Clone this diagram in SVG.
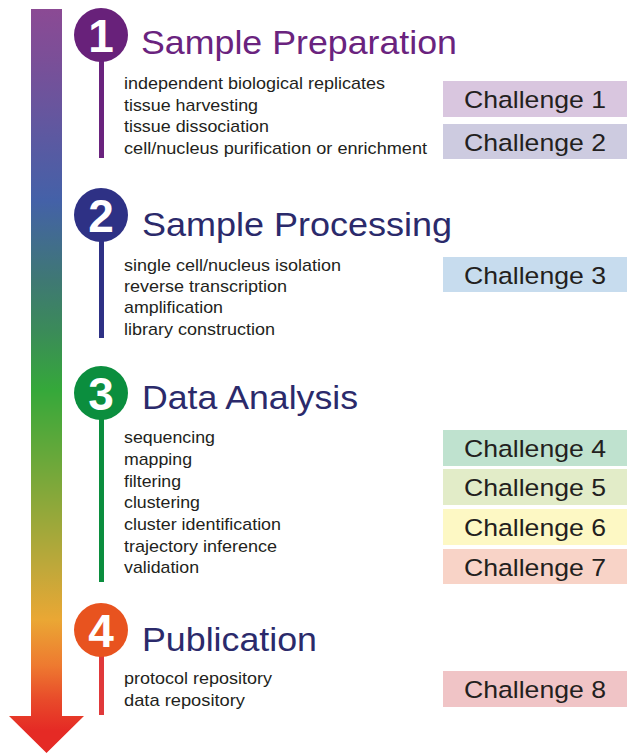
<svg xmlns="http://www.w3.org/2000/svg" width="627" height="754" viewBox="0 0 627 754">
<defs>
<linearGradient id="g" gradientUnits="userSpaceOnUse" x1="0" y1="9" x2="0" y2="753">
<stop offset="0" stop-color="#8b4a94"/>
<stop offset="0.07" stop-color="#7a4f98"/>
<stop offset="0.257" stop-color="#4461a8"/>
<stop offset="0.364" stop-color="#3f7874"/>
<stop offset="0.43" stop-color="#3b8a5a"/>
<stop offset="0.512" stop-color="#35a83a"/>
<stop offset="0.606" stop-color="#6aa83a"/>
<stop offset="0.687" stop-color="#99a83a"/>
<stop offset="0.754" stop-color="#c1a83a"/>
<stop offset="0.821" stop-color="#eaa734"/>
<stop offset="0.882" stop-color="#ee7a30"/>
<stop offset="0.929" stop-color="#e84a2a"/>
<stop offset="0.97" stop-color="#e52a25"/>
<stop offset="1" stop-color="#e52a25"/>
</linearGradient>
<style>
.body{font-family:"Liberation Sans",Arial,sans-serif;font-size:17px;fill:#231f20}
.title{font-family:"Liberation Sans",Arial,sans-serif;font-size:33px}
.num{font-family:"Liberation Sans",Arial,sans-serif;font-size:46px;font-weight:bold;fill:#fff;text-anchor:middle}
.ch{font-family:"Liberation Sans",Arial,sans-serif;font-size:24.5px;fill:#231f20}
.ln{stroke-width:5;fill:none}
</style>
</defs>
<g id="timeline-arrow">
<path d="M31,9 H62 V716 H84 L46.5,753 L9,716 H31 Z" fill="url(#g)"/>
</g>
<g id="connectors">
<line class="ln" x1="101.5" y1="60" x2="101.5" y2="158" stroke="#6a237e"/>
<line class="ln" x1="101.5" y1="240" x2="101.5" y2="338" stroke="#2e3185"/>
<line class="ln" x1="101.5" y1="418" x2="101.5" y2="582" stroke="#0b8e3e"/>
<line class="ln" x1="101.5" y1="655" x2="101.5" y2="715" stroke="#e0393a"/>
</g>
<g id="step1">
<circle cx="101" cy="35" r="27" fill="#68217a"/>
<text class="num" x="101" y="51.5">1</text>
<text class="title" x="141" y="54" fill="#6a237e" textLength="316" lengthAdjust="spacingAndGlyphs">Sample Preparation</text>
<text class="body" x="124" y="89" textLength="261" lengthAdjust="spacingAndGlyphs">independent biological replicates</text>
<text class="body" x="124" y="111" textLength="134" lengthAdjust="spacingAndGlyphs">tissue harvesting</text>
<text class="body" x="124" y="132" textLength="145" lengthAdjust="spacingAndGlyphs">tissue dissociation</text>
<text class="body" x="124" y="154" textLength="303" lengthAdjust="spacingAndGlyphs">cell/nucleus purification or enrichment</text>
</g>
<g id="step2">
<circle cx="101" cy="215" r="27" fill="#2e3185"/>
<text class="num" x="101" y="231.5">2</text>
<text class="title" x="142" y="236" fill="#2b2a6b" textLength="310" lengthAdjust="spacingAndGlyphs">Sample Processing</text>
<text class="body" x="124" y="271" textLength="217" lengthAdjust="spacingAndGlyphs">single cell/nucleus isolation</text>
<text class="body" x="124" y="292" textLength="163" lengthAdjust="spacingAndGlyphs">reverse transcription</text>
<text class="body" x="124" y="313" textLength="99" lengthAdjust="spacingAndGlyphs">amplification</text>
<text class="body" x="124" y="335" textLength="151" lengthAdjust="spacingAndGlyphs">library construction</text>
</g>
<g id="step3">
<circle cx="101" cy="393" r="27" fill="#0b8e3e"/>
<text class="num" x="101" y="409.5">3</text>
<text class="title" x="142" y="409" fill="#2b2a6b" textLength="216" lengthAdjust="spacingAndGlyphs">Data Analysis</text>
<text class="body" x="124" y="443" textLength="91" lengthAdjust="spacingAndGlyphs">sequencing</text>
<text class="body" x="124" y="465" textLength="68" lengthAdjust="spacingAndGlyphs">mapping</text>
<text class="body" x="124" y="487" textLength="57" lengthAdjust="spacingAndGlyphs">filtering</text>
<text class="body" x="124" y="508" textLength="76" lengthAdjust="spacingAndGlyphs">clustering</text>
<text class="body" x="124" y="530" textLength="157" lengthAdjust="spacingAndGlyphs">cluster identification</text>
<text class="body" x="124" y="552" textLength="153" lengthAdjust="spacingAndGlyphs">trajectory inference</text>
<text class="body" x="124" y="573" textLength="75" lengthAdjust="spacingAndGlyphs">validation</text>
</g>
<g id="step4">
<circle cx="101" cy="630" r="27" fill="#e8531f"/>
<text class="num" x="101" y="646.5">4</text>
<text class="title" x="142" y="651" fill="#2b2a6b" textLength="175" lengthAdjust="spacingAndGlyphs">Publication</text>
<text class="body" x="124" y="684" textLength="148" lengthAdjust="spacingAndGlyphs">protocol repository</text>
<text class="body" x="124" y="706" textLength="121" lengthAdjust="spacingAndGlyphs">data repository</text>
</g>
<g id="challenge1"><rect x="443" y="81" width="184" height="36" fill="#d9c6df"/><text class="ch" x="464" y="107.5" textLength="142" lengthAdjust="spacingAndGlyphs">Challenge 1</text></g>
<g id="challenge2"><rect x="443" y="124" width="184" height="35" fill="#cdcbe0"/><text class="ch" x="464" y="150.5" textLength="142" lengthAdjust="spacingAndGlyphs">Challenge 2</text></g>
<g id="challenge3"><rect x="443" y="257" width="184" height="35" fill="#c7dcee"/><text class="ch" x="464" y="283.5" textLength="142" lengthAdjust="spacingAndGlyphs">Challenge 3</text></g>
<g id="challenge4"><rect x="443" y="430" width="184" height="36" fill="#bfe2cf"/><text class="ch" x="464" y="456.5" textLength="142" lengthAdjust="spacingAndGlyphs">Challenge 4</text></g>
<g id="challenge5"><rect x="443" y="469" width="184" height="36" fill="#e2ecc8"/><text class="ch" x="464" y="495.5" textLength="142" lengthAdjust="spacingAndGlyphs">Challenge 5</text></g>
<g id="challenge6"><rect x="443" y="509" width="184" height="36" fill="#fdf8c4"/><text class="ch" x="464" y="535.5" textLength="142" lengthAdjust="spacingAndGlyphs">Challenge 6</text></g>
<g id="challenge7"><rect x="443" y="549" width="184" height="35" fill="#f8d3c7"/><text class="ch" x="464" y="575.5" textLength="142" lengthAdjust="spacingAndGlyphs">Challenge 7</text></g>
<g id="challenge8"><rect x="443" y="671" width="184" height="36" fill="#f0c4c6"/><text class="ch" x="464" y="697.5" textLength="142" lengthAdjust="spacingAndGlyphs">Challenge 8</text></g>
</svg>
